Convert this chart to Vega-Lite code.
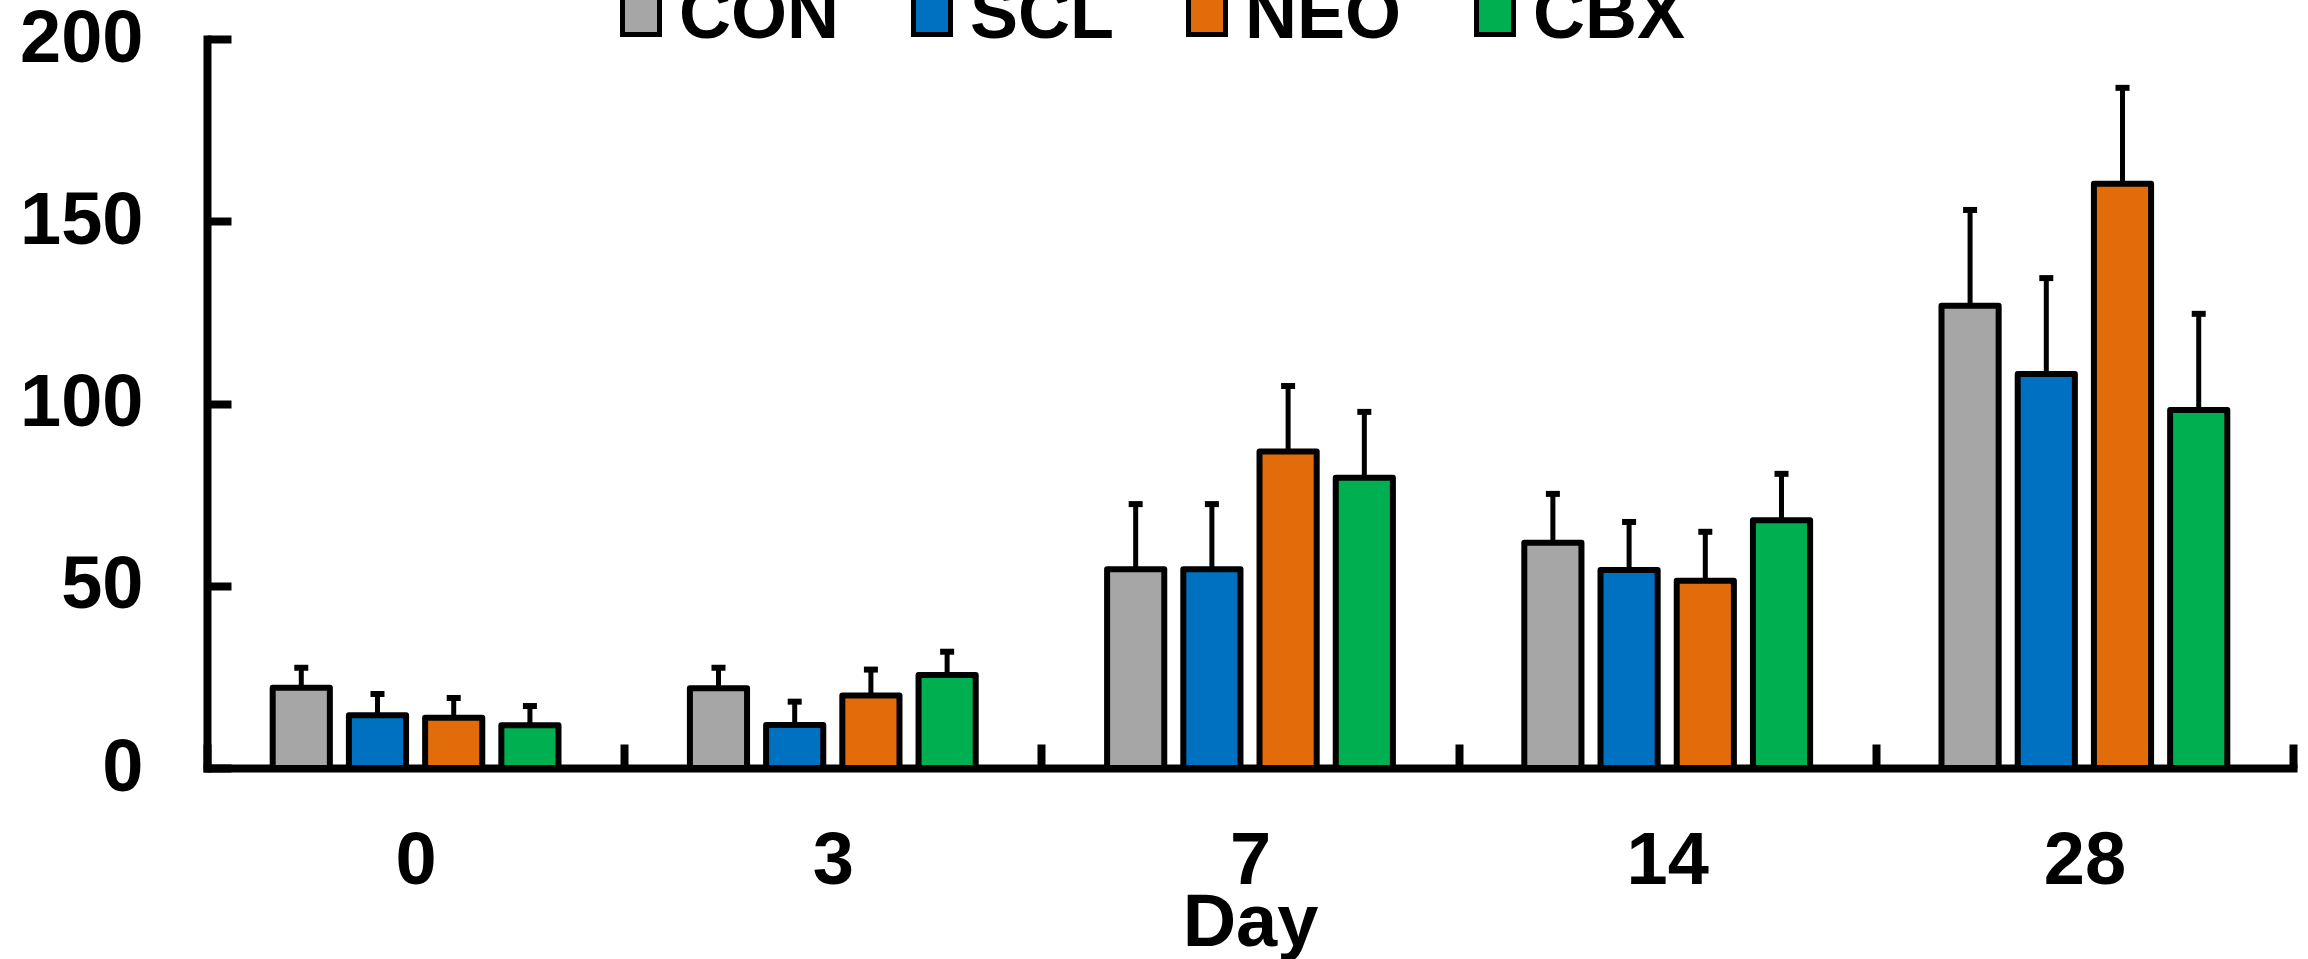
{
  "$schema": "https://vega.github.io/schema/vega-lite/v6.json",
  "width": 2086,
  "height": 729,
  "autosize": {"type": "none"},
  "padding": {"left": 207, "top": 39, "right": 15, "bottom": 191},
  "background": "white",
  "config": {"view": {"stroke": null}},
  "data": {
    "values": [
      {"day": "0", "group": "CON", "mean": 22.0, "upper": 27.5},
      {"day": "0", "group": "SCL", "mean": 14.5, "upper": 20.3},
      {"day": "0", "group": "NEO", "mean": 13.8, "upper": 19.2},
      {"day": "0", "group": "CBX", "mean": 11.7, "upper": 17.0},
      {"day": "3", "group": "CON", "mean": 21.9, "upper": 27.5},
      {"day": "3", "group": "SCL", "mean": 11.8, "upper": 18.2},
      {"day": "3", "group": "NEO", "mean": 19.9, "upper": 27.0},
      {"day": "3", "group": "CBX", "mean": 25.5, "upper": 31.9},
      {"day": "7", "group": "CON", "mean": 54.5, "upper": 72.4},
      {"day": "7", "group": "SCL", "mean": 54.5, "upper": 72.4},
      {"day": "7", "group": "NEO", "mean": 86.8, "upper": 104.8},
      {"day": "7", "group": "CBX", "mean": 79.6, "upper": 97.7},
      {"day": "14", "group": "CON", "mean": 61.8, "upper": 75.2},
      {"day": "14", "group": "SCL", "mean": 54.3, "upper": 67.5},
      {"day": "14", "group": "NEO", "mean": 51.4, "upper": 64.8},
      {"day": "14", "group": "CBX", "mean": 68.0, "upper": 80.7},
      {"day": "28", "group": "CON", "mean": 126.8, "upper": 153.1},
      {"day": "28", "group": "SCL", "mean": 108.1, "upper": 134.4},
      {"day": "28", "group": "NEO", "mean": 160.3, "upper": 186.6},
      {"day": "28", "group": "CBX", "mean": 98.2, "upper": 124.6}
    ]
  },
  "encoding": {
    "x": {
      "field": "day",
      "type": "nominal",
      "sort": ["0", "3", "7", "14", "28"],
      "scale": {"paddingInner": 0, "paddingOuter": 0},
      "axis": {
        "title": "Day",
        "labelAngle": 0,
        "tickBand": "extent",
        "domainWidth": 8,
        "domainColor": "black",
        "domainCap": "square",
        "tickWidth": 8,
        "tickColor": "black",
        "tickSize": -24,
        "labelFont": "Liberation Sans",
        "labelFontWeight": "bold",
        "labelFontSize": 74,
        "labelColor": "black",
        "labelPadding": 139,
        "labelBaseline": "alphabetic",
        "titleFont": "Liberation Sans",
        "titleFontWeight": "bold",
        "titleFontSize": 74,
        "titleColor": "black",
        "titleY": 177,
        "titleBaseline": "alphabetic"
      }
    },
    "xOffset": {
      "field": "group",
      "type": "nominal",
      "sort": ["CON", "SCL", "NEO", "CBX"],
      "scale": {"paddingInner": 0.25, "paddingOuter": 0.862}
    }
  },
  "layer": [
    {
      "mark": {"type": "bar", "stroke": "black", "strokeWidth": 6, "strokeJoin": "round"},
      "encoding": {
        "y": {
          "field": "mean",
          "type": "quantitative",
          "scale": {"domain": [0, 200]},
          "axis": {
            "title": null,
            "values": [0, 50, 100, 150, 200],
            "grid": false,
            "domainWidth": 8,
            "domainColor": "black",
            "domainCap": "square",
            "tickWidth": 8,
            "tickColor": "black",
            "tickSize": -24,
            "labelFont": "Liberation Sans",
            "labelFontWeight": "bold",
            "labelFontSize": 74,
            "labelColor": "black",
            "labelPadding": 88,
            "labelBaseline": "middle"
          }
        },
        "color": {
          "field": "group",
          "type": "nominal",
          "sort": ["CON", "SCL", "NEO", "CBX"],
          "scale": {"domain": ["CON", "SCL", "NEO", "CBX"], "range": ["#A6A6A6", "#0070C0", "#E36C0A", "#00B050"]},
          "legend": {
            "orient": "none",
            "legendX": 398,
            "legendY": -59,
            "direction": "horizontal",
            "title": null,
            "padding": 0,
            "symbolType": "square",
            "symbolSize": 1369,
            "symbolStrokeColor": "black",
            "symbolStrokeWidth": 5,
            "symbolOpacity": 1,
            "labelFont": "Liberation Sans",
            "labelFontWeight": "bold",
            "labelFontSize": 72,
            "labelColor": "black",
            "labelOffset": 2,
            "labelLimit": 0,
            "columnPadding": 57
          }
        }
      }
    },
    {
      "mark": {"type": "rule", "strokeWidth": 5, "color": "black"},
      "encoding": {
        "y": {"field": "mean", "type": "quantitative"},
        "y2": {"field": "upper"}
      }
    },
    {
      "mark": {"type": "tick", "orient": "horizontal", "size": 14, "thickness": 6, "color": "black", "opacity": 1},
      "encoding": {
        "y": {"field": "upper", "type": "quantitative"}
      }
    }
  ]
}
